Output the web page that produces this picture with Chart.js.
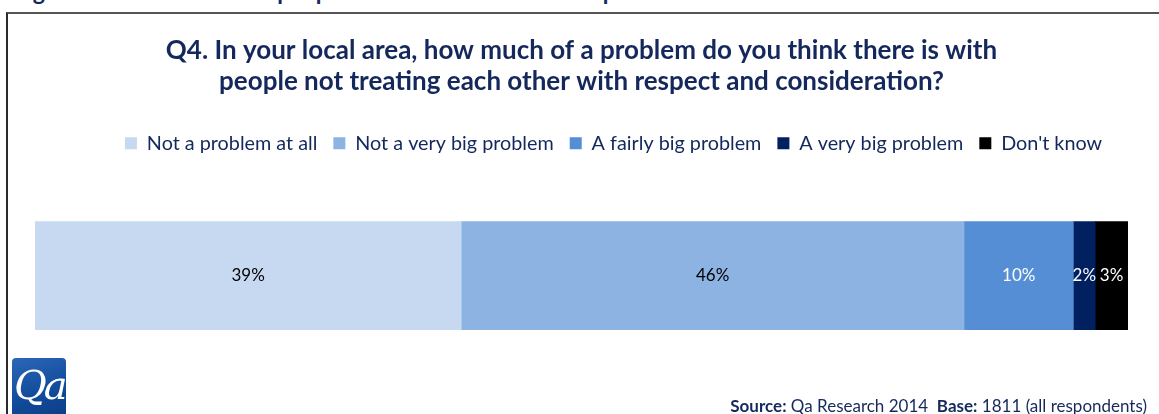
<!DOCTYPE html>
<html>
<head>
<meta charset="utf-8">
<script src="https://cdn.jsdelivr.net/npm/chart.js@4.4.1/dist/chart.umd.min.js"></script>
<style>
  body { margin: 0; background: #fff; font-family: Lato, "Open Sans", sans-serif; }
  #wrap { position: relative; width: 1159px; height: 414px; overflow: hidden; }
  #heading { position: absolute; left: 14px; top: -23px; font: bold 23px Lato, sans-serif; color: #14285c; white-space: nowrap; }
  #frame { position: absolute; left: 6px; top: 12px; width: 1200px; height: 460px;
           border-top: 2px solid #555; border-left: 2px solid #2a2a2a; }
  #chart_q4 { position: absolute; left: 0; top: 0; }
  #logo { position: absolute; left: 12px; top: 358px; width: 54px; height: 60px; border-radius: 4px;
          background: linear-gradient(160deg, #2d67b8 0%, #124c9c 55%, #0b3d86 100%); overflow: hidden; }
  #logo span { position: absolute; left: 2px; top: 4px; font: italic 40px "DejaVu Serif", serif; color: #fff; letter-spacing: -3px; }
  #source { position: absolute; right: 12px; top: 395px; font: 17px Lato, sans-serif; color: #14285c; white-space: nowrap; }
  #source b { font-weight: bold; }
</style>
</head>
<body>
<div id="wrap">
  <div id="heading">Figure 4.1: Whether local people treat each other with respect and consideration</div>
  <div id="frame"></div>
  <canvas id="chart_q4" width="1159" height="414"></canvas>
  <div id="logo"><span>Qa</span></div>
  <div id="source"><b>Source:</b> Qa Research 2014&nbsp;&nbsp;<b>Base:</b> 1811 (all respondents)</div>
</div>

<script>
// answers to Q4, percent of respondents
const answers = ['Not a problem at all', 'Not a very big problem', 'A fairly big problem', 'A very big problem', "Don't know"];
const percents = [39, 46, 10, 2, 3];
const colours = ['#C6D9F1', '#8DB3E2', '#558ED5', '#002060', '#000000'];
const labelColours = ['#000000', '#000000', '#ffffff', '#ffffff', '#ffffff'];

const navy = '#14285c';

const datasets = [];
for ( var i = 0; i < answers.length; i++ ) {
  datasets.push({
    label: answers[i],
    data: [percents[i]],
    backgroundColor: colours[i],
    borderWidth: 0,
    barThickness: 108,
  });
}

// write the percentage in the middle of each segment
const segmentLabels = {
  id: 'segmentLabels',
  afterDatasetsDraw(chart) {
    const ctx = chart.ctx;
    ctx.save();
    ctx.font = '17px Lato, sans-serif';
    ctx.textAlign = 'center';
    ctx.textBaseline = 'middle';
    chart.data.datasets.forEach(function (ds, i) {
      const bar = chart.getDatasetMeta(i).data[0];
      const mid = (bar.x + bar.base) / 2;
      ctx.fillStyle = labelColours[i];
      ctx.fillText(ds.data[0] + '%', mid, bar.y);
    });
    ctx.restore();
  }
};

// the legend row sits a little right of centre
const legendShift = {
  id: 'legendShift',
  afterLayout(chart) {
    chart.legend.left += 32;
    chart.legend.right += 32;
  }
};

const ctx_q4 = document.getElementById('chart_q4');

const configQ4 = {
  type: 'bar',
  data: {
    labels: ['Q4'],
    datasets: datasets
  },
  options: {
    indexAxis: 'y',
    responsive: false,
    animation: false,
    layout: { padding: { left: 35, right: 31, top: 36, bottom: 26 } },
    scales: {
      x: { stacked: true, min: 0, max: 100, display: false },
      y: { stacked: true, display: false }
    },
    plugins: {
      title: {
        display: true,
        text: ['Q4. In your local area, how much of a problem do you think there is with',
               'people not treating each other with respect and consideration?'],
        color: navy,
        font: { family: 'Lato', size: 26, weight: 'bold', lineHeight: 1.16 },
        padding: { top: 0, bottom: 21 }
      },
      legend: {
        display: true,
        position: 'top',
        labels: {
          color: navy,
          font: { family: 'Lato', size: 19.8 },
          boxWidth: 12,
          boxHeight: 12,
          padding: 16
        }
      },
      tooltip: { enabled: false }
    }
  },
  plugins: [segmentLabels, legendShift]
};

const chartQ4 = new Chart(ctx_q4, configQ4);
</script>
</body>
</html>
